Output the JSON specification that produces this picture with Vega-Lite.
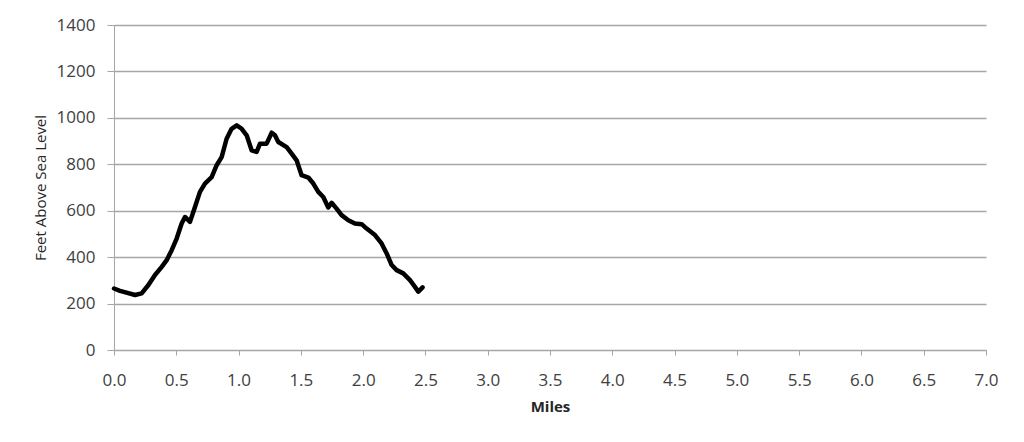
{
  "$schema": "https://vega.github.io/schema/vega-lite/v6.json",
  "autosize": {"type": "none"},
  "width": 872,
  "height": 325,
  "padding": {"left": 114, "top": 25, "right": 38, "bottom": 92},
  "background": "white",
  "config": {"view": {"stroke": null}, "font": "Open Sans"},
  "data": {"values": [
    {"mi": 0.0, "ft": 265}, {"mi": 0.048, "ft": 255}, {"mi": 0.10, "ft": 247}, {"mi": 0.169, "ft": 237},
    {"mi": 0.222, "ft": 244}, {"mi": 0.276, "ft": 280}, {"mi": 0.329, "ft": 323}, {"mi": 0.383, "ft": 358},
    {"mi": 0.423, "ft": 387}, {"mi": 0.463, "ft": 430}, {"mi": 0.503, "ft": 480}, {"mi": 0.543, "ft": 545},
    {"mi": 0.570, "ft": 573}, {"mi": 0.610, "ft": 552}, {"mi": 0.650, "ft": 616}, {"mi": 0.690, "ft": 681},
    {"mi": 0.730, "ft": 717}, {"mi": 0.784, "ft": 745}, {"mi": 0.824, "ft": 796}, {"mi": 0.864, "ft": 831},
    {"mi": 0.904, "ft": 910}, {"mi": 0.944, "ft": 953}, {"mi": 0.985, "ft": 968}, {"mi": 1.025, "ft": 953},
    {"mi": 1.065, "ft": 925}, {"mi": 1.105, "ft": 860}, {"mi": 1.145, "ft": 853}, {"mi": 1.172, "ft": 889},
    {"mi": 1.225, "ft": 889}, {"mi": 1.266, "ft": 936}, {"mi": 1.292, "ft": 925}, {"mi": 1.319, "ft": 896},
    {"mi": 1.386, "ft": 874}, {"mi": 1.426, "ft": 846}, {"mi": 1.466, "ft": 817}, {"mi": 1.506, "ft": 753},
    {"mi": 1.560, "ft": 743}, {"mi": 1.600, "ft": 717}, {"mi": 1.640, "ft": 681}, {"mi": 1.680, "ft": 659},
    {"mi": 1.720, "ft": 614}, {"mi": 1.747, "ft": 634}, {"mi": 1.787, "ft": 609}, {"mi": 1.827, "ft": 581},
    {"mi": 1.881, "ft": 559}, {"mi": 1.934, "ft": 545}, {"mi": 1.988, "ft": 542}, {"mi": 2.028, "ft": 523},
    {"mi": 2.095, "ft": 495}, {"mi": 2.148, "ft": 459}, {"mi": 2.189, "ft": 416}, {"mi": 2.229, "ft": 366},
    {"mi": 2.269, "ft": 344}, {"mi": 2.322, "ft": 330}, {"mi": 2.376, "ft": 301}, {"mi": 2.416, "ft": 272},
    {"mi": 2.443, "ft": 251}, {"mi": 2.477, "ft": 270}
  ]},
  "mark": {"type": "line", "color": "black", "strokeWidth": 4.5, "strokeJoin": "round", "strokeCap": "round"},
  "encoding": {
    "x": {
      "field": "mi", "type": "quantitative",
      "scale": {"domain": [0, 7], "nice": false, "zero": false},
      "axis": {
        "title": "Miles", "values": [0, 0.5, 1, 1.5, 2, 2.5, 3, 3.5, 4, 4.5, 5, 5.5, 6, 6.5, 7],
        "format": ".1f", "grid": false, "domainColor": "#a6a6a6", "tickColor": "#a6a6a6",
        "tickSize": 5, "labelPadding": 17, "labelFontSize": 17, "labelColor": "#404040",
        "labelFlush": false,
        "titleFontSize": 15, "titleFontWeight": "bold", "titleColor": "#262626", "titlePadding": 11
      }
    },
    "y": {
      "field": "ft", "type": "quantitative",
      "scale": {"domain": [0, 1400], "nice": false},
      "axis": {
        "title": "Feet Above Sea Level", "values": [0, 200, 400, 600, 800, 1000, 1200, 1400],
        "format": "d",
        "grid": true, "gridColor": "#a6a6a6", "gridWidth": 1.5, "domainColor": "#a6a6a6", "tickColor": "#a6a6a6",
        "tickSize": 7, "labelPadding": 12, "labelFontSize": 17, "labelColor": "#404040",
        "titleFontSize": 15, "titleFontWeight": "normal", "titleColor": "#262626", "titlePadding": 8
      }
    }
  }
}
